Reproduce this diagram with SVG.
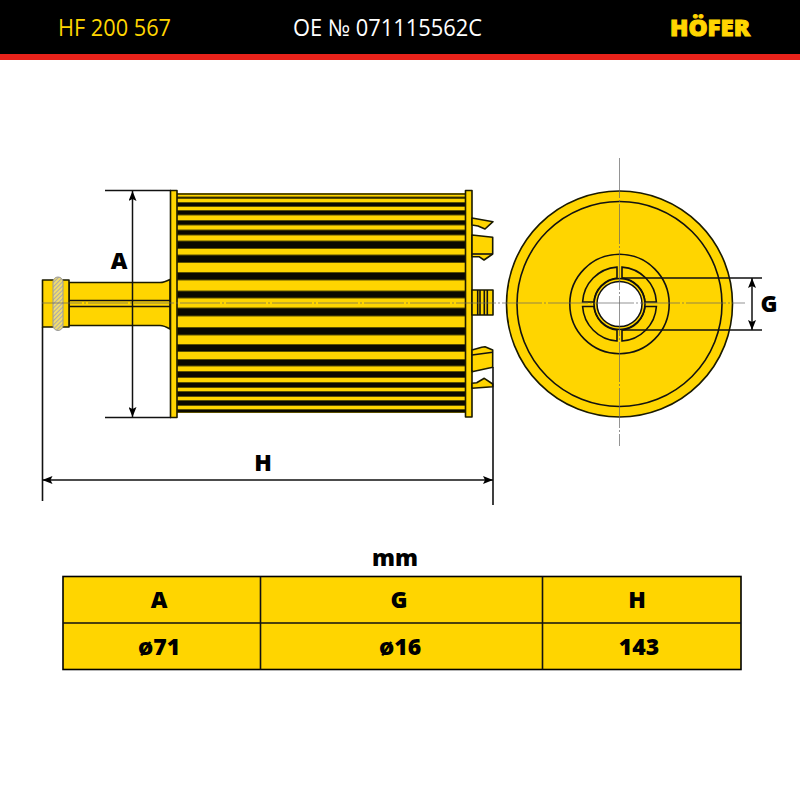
<svg xmlns="http://www.w3.org/2000/svg" width="800" height="800" viewBox="0 0 800 800">
<style>
text{font-family:"Open Sans","Liberation Sans",sans-serif}
.b{font-weight:800;font-size:23px;fill:#000;text-anchor:middle}
.hd{font-size:23px}
.y{fill:#ffd500;stroke:#1a1a00;stroke-width:1.6;stroke-linejoin:round}
.k{fill:#0a0800;stroke:#5c5000;stroke-width:1}
.l{fill:none;stroke:#111;stroke-width:1.6}
.d{fill:none;stroke:#111;stroke-width:1.5;marker-start:url(#a);marker-end:url(#a)}
.c{fill:none;stroke:#666;stroke-width:.7;stroke-dasharray:40 2 2 2}
.t{fill:#ffd500;stroke:#000;stroke-width:1.6}
</style>
<defs>
<marker id="a" viewBox="0 0 10 8" refX="10" refY="4" markerWidth="10" markerHeight="8" markerUnits="userSpaceOnUse" orient="auto-start-reverse"><path d="M0 0L10 4L0 8L2 4Z" fill="#000"/></marker>
<pattern id="h" width="3" height="3" patternUnits="userSpaceOnUse" patternTransform="rotate(45)"><rect width="3" height="3" fill="#f0dc70"/><rect width="1" height="3" fill="#aaa"/></pattern>
</defs>
<rect width="800" height="800" fill="#fff"/>
<g id="header">
<rect width="800" height="54" fill="#000"/>
<rect y="54" width="800" height="6" fill="#e8221a"/>
<text class="hd" x="58" y="35.500" fill="#ffd500" textLength="113" lengthAdjust="spacingAndGlyphs">HF 200 567</text>
<text class="hd" x="293" y="35.500" fill="#fff" textLength="189" lengthAdjust="spacingAndGlyphs">OE № 071115562C</text>
<text x="670" y="35.500" font-size="23" font-weight="800" fill="#ffd500" stroke="#ffd500" stroke-width="1" textLength="80" lengthAdjust="spacingAndGlyphs">HÖFER</text>
</g>
<g id="side-view">
<path class="y" d="M69 282.500H160Q164 282.500 170 279.500V329Q164 325.500 160 325.500H69Z"/>
<path class="l" d="M69 300.500H170M69 306.500H170"/>
<rect class="y" x="42.500" y="280" width="26.500" height="47"/>
<rect x="53" y="277" width="10" height="53.500" rx="5" fill="url(#h)" stroke="#999" stroke-width="1"/>
<rect x="177" y="193" width="289" height="220" fill="#ffd500"/>
<g id="filter-ribs">
<rect class="k" x="177" y="193.500" width="289" height="1"/>
<rect class="k" x="177" y="197" width="289" height="1.500"/>
<rect class="k" x="177" y="202.500" width="289" height="4"/>
<rect class="k" x="177" y="210.500" width="289" height="4.500"/>
<rect class="k" x="177" y="220.500" width="289" height="4.500"/>
<rect class="k" x="177" y="230" width="289" height="5"/>
<rect class="k" x="177" y="241" width="289" height="7.500"/>
<rect class="k" x="177" y="255" width="289" height="7.500"/>
<rect class="k" x="177" y="272.500" width="289" height="7.500"/>
<rect class="k" x="177" y="291" width="289" height="7"/>
<rect class="k" x="177" y="308" width="289" height="8"/>
<rect class="k" x="177" y="327.500" width="289" height="7.500"/>
<rect class="k" x="177" y="344.500" width="289" height="7"/>
<rect class="k" x="177" y="359.500" width="289" height="6.500"/>
<rect class="k" x="177" y="371.500" width="289" height="6"/>
<rect class="k" x="177" y="382.500" width="289" height="5"/>
<rect class="k" x="177" y="391.500" width="289" height="5"/>
<rect class="k" x="177" y="400.500" width="289" height="5"/>
<rect class="k" x="177" y="409.500" width="289" height="3"/>
</g>
<rect class="y" x="170.500" y="190.500" width="6.500" height="227"/>
<rect class="y" x="465.500" y="190.500" width="6.500" height="226.500"/>
<path class="y" d="M472 218L493 221.700L485 229L478 226L472 225Z"/>
<path class="y" d="M472 235L492.700 237.300V254L484 260L479 256.700H472Z"/>
<path class="l" d="M472 254H492.700"/>
<rect class="y" x="472" y="290" width="21" height="25"/>
<path class="l" d="M477.700 290V315M480 290V315M484.300 290V315M487.300 290V315"/>
<path class="y" d="M472 350L481.700 347.300L485 346.700L492.700 350V367.300L472 371.700Z"/>
<path class="l" d="M472 355L492.700 352.300"/>
<path class="y" d="M472 383.300L476.700 382.700L484.300 378.300L492.700 384V386.700L472 388.300Z"/>
</g>
<g id="end-view">
<circle class="y" cx="619.500" cy="304" r="113" stroke-width="2"/>
<circle class="l" cx="619.500" cy="304" r="102.500" stroke-width="2"/>
<circle class="l" cx="619.500" cy="304" r="49.700" stroke-width="2"/>
<path class="l" stroke-width="2" d="M617 267.100A37 37 0 0 0 582.600 302H594A26 26 0 0 1 617 278ZM622 267.100A37 37 0 0 1 656.400 302H645A26 26 0 0 0 622 278ZM582.600 306.500A37 37 0 0 0 617 341V330A26 26 0 0 1 594 306.500ZM656.400 306.500A37 37 0 0 1 622 341V330A26 26 0 0 0 645 306.500Z"/>
<circle class="l" cx="619.500" cy="304" r="25.500" stroke-width="1.500"/>
<circle cx="619.500" cy="304" r="22.500" fill="#fff" stroke="#111" stroke-width="1.500"/>
</g>
<g id="connectors">
<path class="c" d="M42 303H745M619.500 158V446"/>
<path class="l" d="M105 190.500H171M105 417.500H171M42.500 327V501M493 367V505M622 278H762M622 330H762"/>
<path class="d" d="M132.500 191V417"/>
<path class="d" d="M42.500 480H493"/>
<path class="d" d="M752 278V330"/>
</g>
<g id="dim-labels">
<text class="b" x="119" y="269">A</text>
<text class="b" x="263" y="471">H</text>
<text class="b" x="769" y="312">G</text>
<text class="b" x="395" y="566">mm</text>
</g>
<g id="table">
<rect class="t" x="63" y="576.500" width="678" height="93"/>
<path class="l" stroke="#000" d="M63 623H741M260.500 576.500V669.500M542.500 576.500V669.500"/>
<text class="b" x="159" y="608">A</text>
<text class="b" x="399" y="608">G</text>
<text class="b" x="637" y="608">H</text>
<text class="b" x="159" y="655">ø71</text>
<text class="b" x="400" y="655">ø16</text>
<text class="b" x="639" y="655">143</text>
</g>
</svg>
